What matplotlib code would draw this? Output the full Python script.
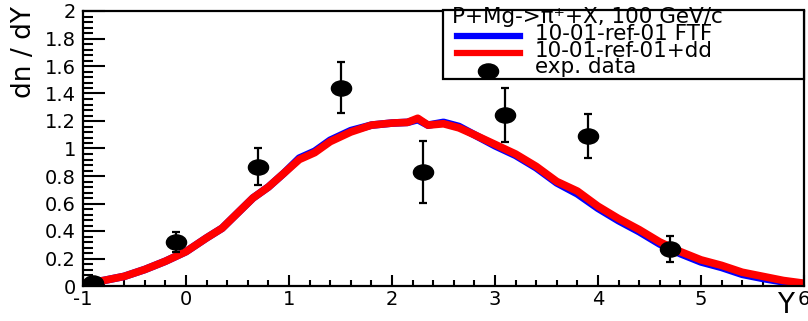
import matplotlib
matplotlib.use("Agg")
import matplotlib.pyplot as plt
import matplotlib.path as mpath
import matplotlib.transforms as mtransforms
from matplotlib.lines import Line2D
from matplotlib.patches import Rectangle
from matplotlib.ticker import MultipleLocator, FormatStrFormatter
import numpy as np

# model curves
y_grid = [-1.0, -0.8, -0.6, -0.4, -0.2, 0.0, 0.2, 0.35, 0.5, 0.65, 0.8, 0.95,
          1.1, 1.25, 1.4, 1.6, 1.8, 2.0, 2.15, 2.25, 2.35, 2.5, 2.65, 2.8,
          3.0, 3.2, 3.4, 3.6, 3.8, 4.0, 4.2, 4.4, 4.6, 4.8, 5.0, 5.2, 5.4,
          5.6, 5.8, 6.0]
dndy_ftf = [0.02, 0.04, 0.07, 0.12, 0.18, 0.25, 0.35, 0.42, 0.53, 0.64, 0.72,
            0.82, 0.93, 0.98, 1.06, 1.13, 1.17, 1.185, 1.19, 1.21, 1.17, 1.19,
            1.16, 1.10, 1.02, 0.95, 0.86, 0.75, 0.67, 0.565, 0.475, 0.395,
            0.305, 0.235, 0.175, 0.135, 0.085, 0.055, 0.03, 0.012]
dndy_dd = [0.02, 0.04, 0.07, 0.12, 0.18, 0.25, 0.35, 0.42, 0.53, 0.64, 0.72,
           0.82, 0.92, 0.97, 1.05, 1.12, 1.17, 1.185, 1.19, 1.22, 1.17, 1.18,
           1.15, 1.10, 1.03, 0.96, 0.87, 0.76, 0.69, 0.58, 0.49, 0.41, 0.32,
           0.25, 0.19, 0.15, 0.10, 0.07, 0.04, 0.02]

# experimental points
y_exp = [-0.9, -0.1, 0.7, 1.5, 2.3, 3.1, 3.9, 4.7]
dndy_exp = [0.02, 0.32, 0.868, 1.442, 0.827, 1.245, 1.093, 0.27]
err_exp = [0.01, 0.075, 0.135, 0.185, 0.225, 0.195, 0.16, 0.093]

W, H = 808, 321
fig = plt.figure(figsize=(W / 100, H / 100), dpi=100)
ax = fig.add_axes([83 / W, 1 - 286 / H, (804 - 83) / W, (286 - 11) / H])

# ROOT draws markers a bit wider than tall here
ell = mpath.Path.unit_circle().transformed(mtransforms.Affine2D().scale(1.33, 1.0))

ax.plot(y_grid, dndy_ftf, color="#0000ff", lw=5.5, solid_joinstyle="round")
ax.plot(y_grid, dndy_dd, color="#ff0000", lw=5.5, solid_joinstyle="round")
ax.errorbar(y_exp, dndy_exp, yerr=err_exp, fmt="none", ecolor="black",
            elinewidth=1.6, capsize=3, capthick=1.6)
ax.plot(y_exp, dndy_exp, ls="none", marker=ell, ms=14.5, color="black")

ax.set_xlim(-1, 6)
ax.set_ylim(0, 2)
ax.xaxis.set_major_locator(MultipleLocator(1))
ax.xaxis.set_minor_locator(MultipleLocator(0.2))
ax.yaxis.set_major_locator(MultipleLocator(0.2))
ax.yaxis.set_minor_locator(MultipleLocator(0.04))
ax.yaxis.set_major_formatter(FormatStrFormatter("%g"))
ax.xaxis.set_major_formatter(FormatStrFormatter("%g"))

ax.tick_params(axis="x", which="both", direction="in", top=False, width=1.5,
               labelsize=14, pad=3)
ax.tick_params(axis="x", which="major", length=8)
ax.tick_params(axis="x", which="minor", length=4)
ax.tick_params(axis="y", which="both", direction="in", right=False, width=1.5,
               labelsize=14, pad=5)
ax.tick_params(axis="y", which="major", length=16)
ax.tick_params(axis="y", which="minor", length=7)
for s in ax.spines.values():
    s.set_linewidth(1.6)

fig.text(24 / W, 1 - 6 / H, "dn / dY", rotation=90, ha="center", va="top",
         fontsize=19)
fig.text(786 / W, 1 - 319 / H, "Y", ha="center", va="bottom", fontsize=20)


# legend box, drawn by hand to get ROOT's tight rows
def fx(px):
    return px / W


def fy(py):
    return 1 - py / H


fig.patches.append(Rectangle((fx(443), fy(79)), fx(804) - fx(443),
                             fy(10) - fy(79), transform=fig.transFigure,
                             fc="white", lw=1.6, ec="black", zorder=5))
fig.text(fx(452), fy(23), "P+Mg->π⁺+X, 100 GeV/c", fontsize=15.5,
         va="baseline", zorder=6)
fig.lines.append(Line2D([fx(457), fx(520)], [fy(36), fy(36)], zorder=6,
                        transform=fig.transFigure, color="#0000ff", lw=4.5))
fig.lines.append(Line2D([fx(457), fx(520)], [fy(53), fy(53)], zorder=6,
                        transform=fig.transFigure, color="#ff0000", lw=4.5))
fig.lines.append(Line2D([fx(488)], [fy(71)], transform=fig.transFigure,
                        ls="none", marker=ell, ms=14.5, color="black",
                        zorder=6))
fig.text(fx(535), fy(40), "10-01-ref-01 FTF", fontsize=15.5, va="baseline",
         zorder=6)
fig.text(fx(535), fy(57), "10-01-ref-01+dd", fontsize=15.5, va="baseline",
         zorder=6)
fig.text(fx(535), fy(73), "exp. data", fontsize=15.5, va="baseline", zorder=6)

fig.savefig("out.png", dpi=100)
